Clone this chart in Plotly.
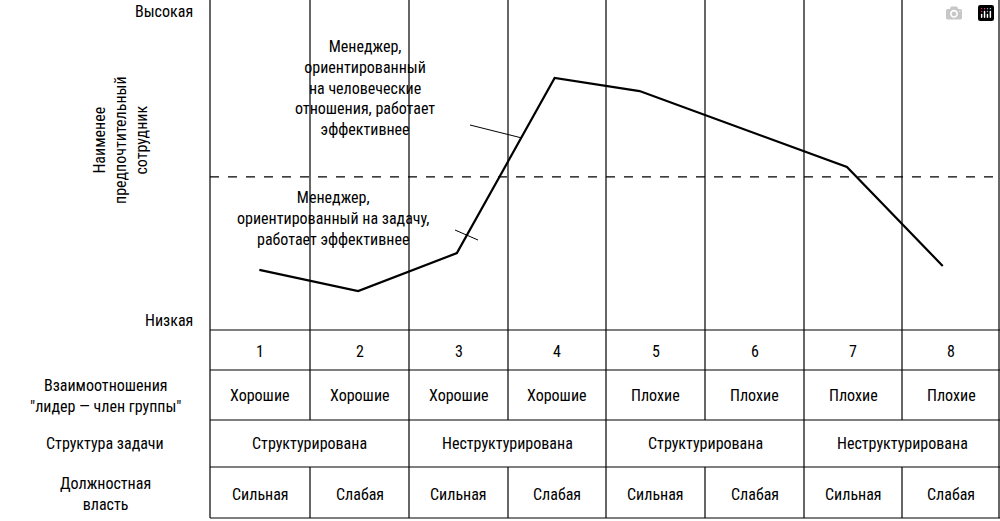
import plotly.graph_objects as go

W, H = 1000, 521
col_numbers = ["1", "2", "3", "4", "5", "6", "7", "8"]
relations = ["Хорошие"] * 4 + ["Плохие"] * 4
structure = ["Структурирована", "Неструктурирована", "Структурирована", "Неструктурирована"]
power = ["Сильная", "Слабая"] * 4
line_x = [1.0, 2.0, 3.0, 3.99, 4.85, 6.95, 7.92]
line_y = [18.2, 11.8, 23.3, 76.4, 72.4, 49.4, 19.4]
threshold = 46.4

FONT = "Liberation Sans Narrow, Roboto Condensed, Liberation Sans, Arial"
X0, X1 = 210, 1000
bounds = [210, 310, 409, 508, 606, 705, 804, 902, 1000]
px = lambda x: x / W
py = lambda y: 1 - y / H

fig = go.Figure()
fig.add_trace(go.Scatter(x=line_x, y=line_y, mode="lines",
                         line=dict(color="black", width=2.2), hoverinfo="skip"))
fig.add_trace(go.Scatter(x=[0.5, 8.5], y=[threshold, threshold], mode="lines",
                         line=dict(color="black", width=1.2, dash="dash"), hoverinfo="skip"))

shapes = []
def seg(x0, y0, x1, y1, w=1.2):
    shapes.append(dict(type="line", xref="paper", yref="paper",
                       x0=px(x0), y0=py(y0), x1=px(x1), y1=py(y1),
                       line=dict(color="black", width=w)))
seg(X0, 0, X0, 518); seg(X1 - 1, 0, X1 - 1, 518)
for b in bounds[1:-1]:
    seg(b, 0, b, 370)
    seg(b, 370, b, 420)
    seg(b, 467, b, 518)
for b in [409, 606, 804]:
    seg(b, 420, b, 467)
for yy in [330, 370, 420, 467, 518]:
    seg(X0, yy, X1, yy)
seg(470, 125, 522, 138, 1)
seg(455, 230, 478, 240, 1)

ann = []
def txt(x, y, t, xanchor="center", angle=0, size=16):
    ann.append(dict(x=px(x), y=py(y), xref="paper", yref="paper", text=t, showarrow=False,
                    xanchor=xanchor, yanchor="middle", textangle=angle,
                    font=dict(family=FONT, size=size, color="black")))
centers = [(bounds[i] + bounds[i + 1]) / 2 for i in range(8)]
for i in range(8):
    txt(centers[i], 351, col_numbers[i])
    txt(centers[i], 395, relations[i])
    txt(centers[i], 494, power[i])
for j in range(4):
    txt((bounds[2 * j] + bounds[2 * j + 2]) / 2, 443, structure[j])
txt(195, 12, "Высокая", "right")
txt(195, 320, "Низкая", "right")
txt(120, 140, "Наименее<br>предпочтительный<br>сотрудник", angle=-90)
txt(105, 396, "Взаимоотношения<br>\"лидер — член группы\"")
txt(105, 443, "Структура задачи")
txt(105, 494, "Должностная<br>власть")
txt(365, 88, "Менеджер,<br>ориентированный<br>на человеческие<br>отношения, работает<br>эффективнее")
txt(333, 218, "Менеджер,<br>ориентированный на задачу,<br>работает эффективнее")

fig.update_layout(
    width=W, height=H, margin=dict(l=0, r=0, t=0, b=0),
    paper_bgcolor="white", plot_bgcolor="white", showlegend=False,
    shapes=shapes, annotations=ann,
    xaxis=dict(domain=[0.21, 1.0], range=[0.5, 8.5], visible=False, fixedrange=True),
    yaxis=dict(domain=[py(330), 1.0], range=[0, 100], visible=False, fixedrange=True),
)
fig.write_html("out.html")
with open("out.html", encoding="utf-8") as f:
    html = f.read()
html = html.replace("<head>", "<head><style>html,body{margin:0;padding:0;overflow:hidden}</style>", 1)
with open("out.html", "w", encoding="utf-8") as f:
    f.write(html)
